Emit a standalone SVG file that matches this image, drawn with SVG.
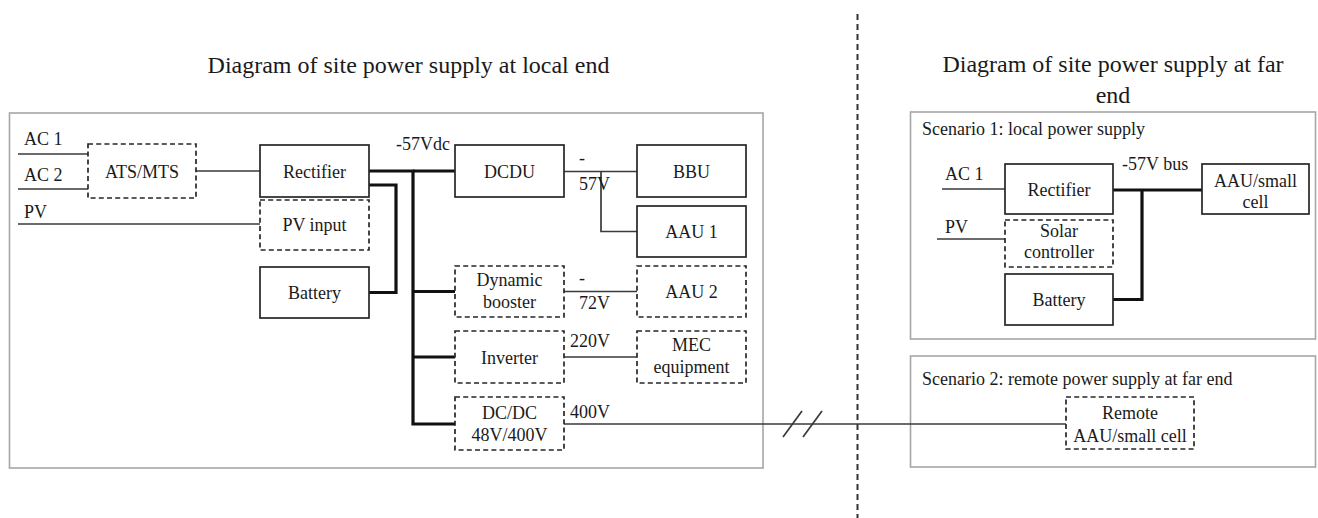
<svg xmlns="http://www.w3.org/2000/svg" width="1318" height="518" viewBox="0 0 1318 518">
<style>
text{font-family:'Liberation Serif','Times New Roman',Tinos,'DejaVu Serif',serif;font-size:18px;fill:#1a1a1a}
.title{font-size:24px;text-anchor:middle}
.c{text-anchor:middle}
.frame{fill:none;stroke:#a6a6a6;stroke-width:1.6}
.box{fill:#fff;stroke:#262626;stroke-width:1.7}
.dbox{fill:#fff;stroke:#262626;stroke-width:1.7;stroke-dasharray:5 3.2}
.thin{fill:none;stroke:#3a3a3a;stroke-width:1.7}
.thick{fill:none;stroke:#111;stroke-width:3.2}
.divider{fill:none;stroke:#333;stroke-width:2;stroke-dasharray:6 4}
</style>
<rect width="1318" height="518" fill="#fff"/>

<g id="frames">
<rect class="frame" x="9.5" y="113" width="753.5" height="355"/>
<rect class="frame" x="910.5" y="112" width="405" height="227"/>
<rect class="frame" x="910.5" y="356" width="405" height="111"/>
<line class="divider" x1="857.5" y1="14" x2="857.5" y2="518"/>
</g>

<g id="titles">
<text class="title" x="408.5" y="73">Diagram of site power supply at local end</text>
<text class="title" x="1113" y="72">Diagram of site power supply at far</text>
<text class="title" x="1113" y="103">end</text>
<text x="922" y="135">Scenario 1: local power supply</text>
<text x="922" y="385">Scenario 2: remote power supply at far end</text>
</g>

<g id="connectors">
<line class="thin" x1="18" y1="154" x2="88" y2="154"/>
<line class="thin" x1="18" y1="189" x2="88" y2="189"/>
<line class="thin" x1="196" y1="171" x2="260" y2="171"/>
<line class="thin" x1="18" y1="224" x2="260" y2="224"/>
<polyline class="thick" points="369,171 413,171 413,424 455,424"/>
<line class="thick" x1="413" y1="171" x2="455" y2="171"/>
<line class="thick" x1="413" y1="291.5" x2="455" y2="291.5"/>
<line class="thick" x1="413" y1="357" x2="455" y2="357"/>
<polyline class="thick" points="369,185 396,185 396,292.5 369,292.5"/>
<line class="thin" x1="564" y1="171.5" x2="637" y2="171.5"/>
<polyline class="thin" points="601,171.5 601,231.5 637,231.5"/>
<line class="thin" x1="564" y1="291.5" x2="637" y2="291.5"/>
<line class="thin" x1="564" y1="357" x2="637" y2="357"/>
<line class="thin" x1="564" y1="424" x2="1066" y2="424"/>
<line class="thin" x1="783" y1="437" x2="802" y2="411"/>
<line class="thin" x1="803" y1="437" x2="822" y2="411"/>
<line class="thin" x1="942" y1="189" x2="1005" y2="189"/>
<line class="thin" x1="937" y1="239" x2="1005" y2="239"/>
<line class="thick" x1="1113" y1="190" x2="1202" y2="190"/>
<polyline class="thick" points="1142,190 1142,299.5 1113,299.5"/>
</g>

<g id="labels">
<text x="24" y="145">AC 1</text>
<text x="24" y="181">AC 2</text>
<text x="24" y="218">PV</text>
<text x="396" y="150">-57Vdc</text>
<text x="579" y="164">-</text>
<text x="579" y="190">57V</text>
<text x="579" y="284">-</text>
<text x="579" y="309">72V</text>
<text x="570" y="347">220V</text>
<text x="570" y="418">400V</text>
<text x="945" y="180">AC 1</text>
<text x="945" y="233">PV</text>
<text x="1122" y="170">-57V bus</text>
</g>

<g id="ats"><rect class="dbox" x="88" y="144" width="108" height="54"/><text class="c" x="142" y="178">ATS/MTS</text></g>
<g id="rectifier"><rect class="box" x="260" y="145" width="109" height="52"/><text class="c" x="314.5" y="178">Rectifier</text></g>
<g id="pvinput"><rect class="dbox" x="260" y="200" width="109" height="50"/><text class="c" x="314.5" y="231">PV input</text></g>
<g id="battery"><rect class="box" x="260" y="267" width="109" height="51"/><text class="c" x="314.5" y="298.5">Battery</text></g>
<g id="dcdu"><rect class="box" x="455" y="145" width="109" height="52"/><text class="c" x="509.5" y="178">DCDU</text></g>
<g id="bbu"><rect class="box" x="637" y="145" width="109" height="52"/><text class="c" x="691.5" y="178">BBU</text></g>
<g id="aau1"><rect class="box" x="637" y="206" width="109" height="51"/><text class="c" x="691.5" y="238">AAU 1</text></g>
<g id="booster"><rect class="dbox" x="455" y="266" width="109" height="51"/><text class="c" x="509.5" y="286">Dynamic</text><text class="c" x="509.5" y="308">booster</text></g>
<g id="aau2"><rect class="dbox" x="637" y="266" width="109" height="51"/><text class="c" x="691.5" y="298">AAU 2</text></g>
<g id="inverter"><rect class="dbox" x="455" y="331" width="109" height="52"/><text class="c" x="509.5" y="363.5">Inverter</text></g>
<g id="mec"><rect class="dbox" x="637" y="331" width="109" height="52"/><text class="c" x="691.5" y="351">MEC</text><text class="c" x="691.5" y="373">equipment</text></g>
<g id="dcdc"><rect class="dbox" x="455" y="397" width="109" height="53"/><text class="c" x="509.5" y="419">DC/DC</text><text class="c" x="509.5" y="441">48V/400V</text></g>

<g id="rectifier2"><rect class="box" x="1005" y="164" width="108" height="50"/><text class="c" x="1059" y="195.5">Rectifier</text></g>
<g id="solar"><rect class="dbox" x="1005" y="220" width="108" height="47"/><text class="c" x="1059" y="237">Solar</text><text class="c" x="1059" y="258">controller</text></g>
<g id="battery2"><rect class="box" x="1005" y="274" width="108" height="51"/><text class="c" x="1059" y="306">Battery</text></g>
<g id="aausmall"><rect class="box" x="1202" y="164" width="107" height="50"/><text class="c" x="1255.5" y="187">AAU/small</text><text class="c" x="1255.5" y="208">cell</text></g>
<g id="remote"><rect class="dbox" x="1066" y="397" width="128" height="52"/><text class="c" x="1130" y="419">Remote</text><text class="c" x="1130" y="442">AAU/small cell</text></g>
</svg>
